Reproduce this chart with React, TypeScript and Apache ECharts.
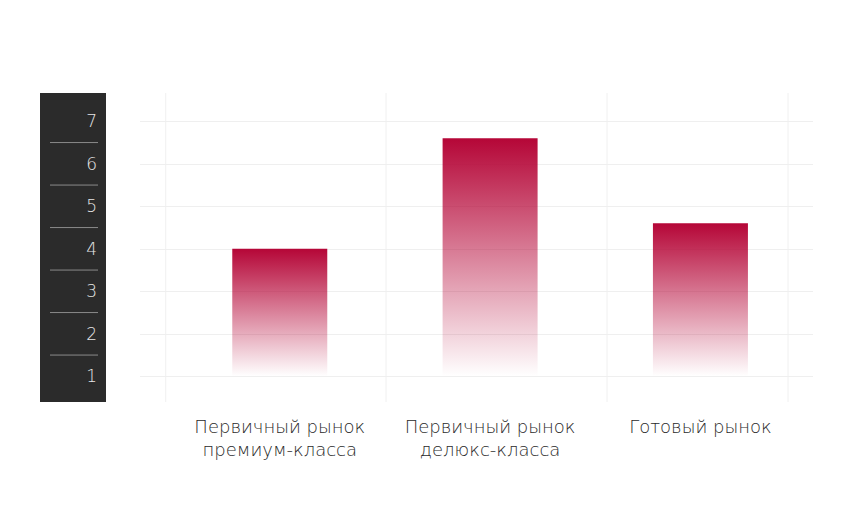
import React, { useEffect, useRef } from "react";
import * as echarts from "echarts";

const categories = [
  "Первичный рынок\nпремиум-класса",
  "Первичный рынок\nделюкс-класса",
  "Готовый рынок",
];
const values = [4.0, 6.6, 4.6];
const yMin = 1;
const yMax = 7;

export default function App() {
  const ref = useRef<HTMLDivElement>(null);
  useEffect(() => {
    document.body.style.margin = "0";
    const chart = echarts.init(ref.current!, null, { renderer: "svg" });
    const FONT = "DejaVu Sans";
    const top = 121.3;
    const bottom = 522 - 376.3;
    chart.setOption({
      animation: false,
      grid: [
        { left: 140, right: 48, top, bottom },
        { left: 174.6, right: 55.4, top, bottom },
      ],
      xAxis: [
        { type: "category", gridIndex: 0, data: categories, show: false },
        {
          type: "category",
          gridIndex: 1,
          data: categories,
          axisLine: { show: false },
          axisTick: { show: false },
          splitLine: { show: false },
          axisLabel: {
            color: "#2a2a2a",
            fontSize: 18,
            fontFamily: FONT,
            fontWeight: 200,
            lineHeight: 23,
            margin: 39,
            interval: 0,
          },
        },
      ],
      yAxis: [
        {
          type: "value",
          gridIndex: 0,
          min: yMin,
          max: yMax,
          interval: 1,
          z: 10,
          axisLine: { show: false },
          axisTick: { show: false },
          splitLine: { lineStyle: { color: "#efefef", width: 1 } },
          axisLabel: {
            color: "#e6e6e6",
            fontSize: 17,
            fontFamily: FONT,
            fontWeight: 200,
            margin: 43,
            padding: [0, 0, 14, 0],
          },
        },
        {
          type: "value",
          gridIndex: 1,
          min: yMin,
          max: yMax,
          interval: 1,
          show: false,
          splitLine: { show: false },
        },
      ],
      series: [
        {
          type: "bar",
          xAxisIndex: 1,
          yAxisIndex: 1,
          z: 20,
          data: values,
          barWidth: 95,
          itemStyle: {
            color: new echarts.graphic.LinearGradient(0, 0, 0, 1, [
              { offset: 0, color: "rgba(181,6,55,1)" },
              { offset: 1, color: "rgba(181,6,55,0)" },
            ]),
          },
        },
      ],
    });

    const seps: any[] = [];
    for (let v = yMin + 0.5; v < yMax; v += 1) {
      const py = chart.convertToPixel({ yAxisIndex: 0 }, v) as number;
      seps.push({
        type: "line",
        z: 1,
        shape: { x1: 50, y1: py, x2: 98, y2: py },
        style: { stroke: "#8a8a8a", lineWidth: 1 },
      });
    }
    const vlines = [165.7, 386, 607, 788].map((x) => ({
      type: "line",
      z: -2,
      shape: { x1: x, y1: 93, x2: x, y2: 402 },
      style: { stroke: "#f0f0f0", lineWidth: 1 },
    }));
    chart.setOption({
      graphic: [
        {
          type: "rect",
          z: 0,
          shape: { x: 40, y: 93, width: 66, height: 309 },
          style: { fill: "#2b2b2b" },
        },
        ...seps,
        ...vlines,
      ],
    });
    return () => chart.dispose();
  }, []);
  return <div ref={ref} style={{ width: 861, height: 522 }} />;
}
